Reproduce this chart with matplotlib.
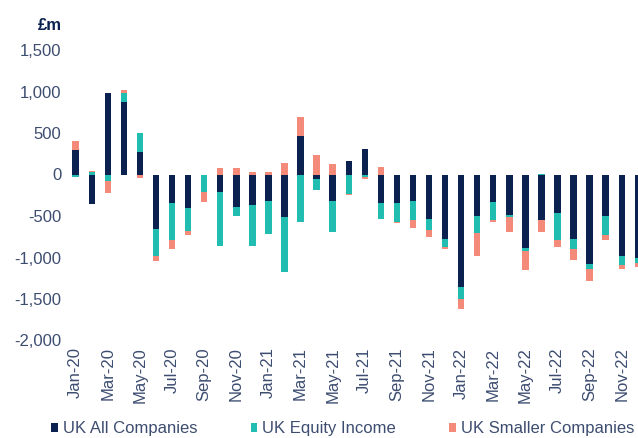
import numpy as np
import matplotlib
matplotlib.use("Agg")
import matplotlib.pyplot as plt
from matplotlib.patches import Patch

months = ["Jan-20", "Feb-20", "Mar-20", "Apr-20", "May-20", "Jun-20", "Jul-20", "Aug-20",
          "Sep-20", "Oct-20", "Nov-20", "Dec-20", "Jan-21", "Feb-21", "Mar-21", "Apr-21",
          "May-21", "Jun-21", "Jul-21", "Aug-21", "Sep-21", "Oct-21", "Nov-21", "Dec-21",
          "Jan-22", "Feb-22", "Mar-22", "Apr-22", "May-22", "Jun-22", "Jul-22", "Aug-22",
          "Sep-22", "Oct-22", "Nov-22", "Dec-22"]

uk_all_companies = [295, -360, 986, 877, 267, -657, -347, -408, -10, -215, -392, -368,
                    -316, -510, 468, -58, -323, 161, 302, -347, -343, -315, -536, -781,
                    -1356, -500, -331, -488, -890, -552, -460, -777, -1078, -500, -982, -1006]
uk_equity_income = [-35, 35, -78, 109, 233, -321, -446, -273, -205, -643, -108, -498,
                    -395, -662, -569, -129, -374, -231, -36, -185, -225, -237, -137, -97,
                    -148, -209, -217, -28, -32, 12, -329, -117, -61, -233, -112, -60]
uk_smaller_companies = [108, 10, -145, 32, -42, -68, -105, -52, -116, 75, 75, 26,
                        28, 142, 221, 235, 127, -13, -15, 94, -12, -97, -76, -24,
                        -121, -277, -20, -173, -225, -145, -85, -133, -144, -60, -45, -49]

series = [("UK All Companies", uk_all_companies, "#0b2150"),
          ("UK Equity Income", uk_equity_income, "#22bdb1"),
          ("UK Smaller Companies", uk_smaller_companies, "#f48a79")]

plt.rcParams['font.family'] = ['Liberation Sans', 'DejaVu Sans']

W, H = 638, 438
fig = plt.figure(figsize=(W / 100, H / 100), dpi=100)
left_px, right_px, top_px, bot_px = 65, 638, 50, 340.5
ax = fig.add_axes([left_px / W, 1 - bot_px / H, (right_px - left_px) / W, (bot_px - top_px) / H])

x = np.arange(len(months))
pos = np.zeros(len(months))
neg = np.zeros(len(months))
handles = []
for name, vals, col in series:
    v = np.array(vals, dtype=float)
    bottom = np.where(v >= 0, pos, neg)
    ax.bar(x, v, bottom=bottom, width=0.4, color=col, edgecolor='none', zorder=2)
    pos = pos + np.where(v >= 0, v, 0)
    neg = neg + np.where(v < 0, v, 0)
    handles.append(Patch(facecolor=col, edgecolor='none', label=name))

ax.set_xlim(-0.666, -0.666 + (right_px - left_px) / 16.06)
ax.set_ylim(-2000, 1500)
ax.set_yticks(np.arange(-2000, 1501, 500))
ax.yaxis.set_major_formatter(matplotlib.ticker.FuncFormatter(lambda v, p: f"{int(v):,}"))
ax.set_xticks(x[::2])
ax.set_xticklabels(months[::2], rotation=90)
tick_col = "#3d4d70"
ax.tick_params(axis='y', length=0, pad=2.5, labelsize=12, labelcolor=tick_col)
ax.tick_params(axis='x', length=0, pad=5, labelsize=12, labelcolor=tick_col)
for s in ax.spines.values():
    s.set_visible(False)

fig.text(62 / W, 1 - 25 / H, "£m", ha='right', va='center', fontsize=12,
         fontweight='bold', color="#0b2150")

leg = fig.legend(handles=handles, loc='center left', bbox_to_anchor=(51 / W, 1 - 429 / H),
                 ncol=3, frameon=False, fontsize=12, handlelength=0.4, handleheight=0.4,
                 handletextpad=0.3, columnspacing=3.2, borderpad=0, borderaxespad=0)
for t in leg.get_texts():
    t.set_color(tick_col)

fig.savefig("out.png", dpi=100)
